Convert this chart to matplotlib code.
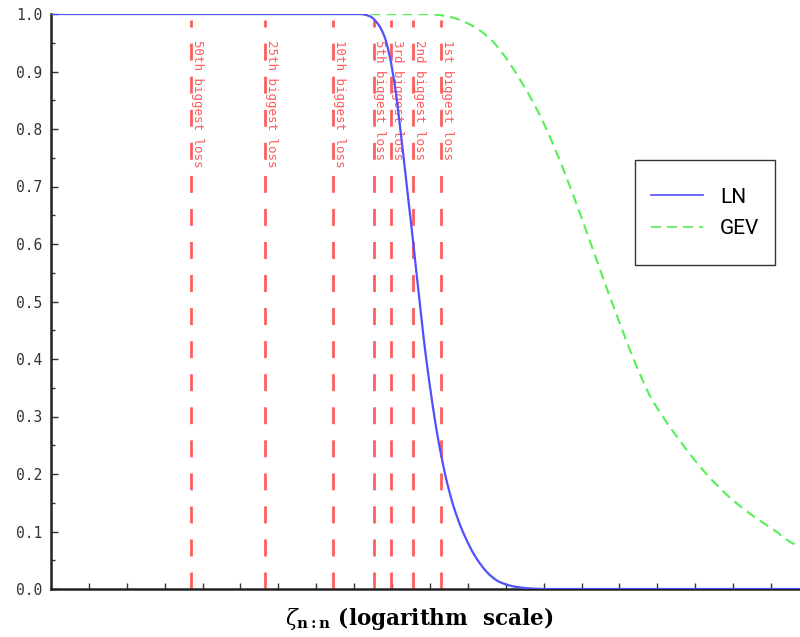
import numpy as np
import matplotlib
matplotlib.use("Agg")
import matplotlib.pyplot as plt
from matplotlib.ticker import FixedLocator, NullLocator, MultipleLocator, NullFormatter
from matplotlib.patches import Rectangle
import matplotlib.transforms as mtransforms

plt.rcParams['lines.scale_dashes'] = False
plt.rcParams['mathtext.fontset'] = 'dejavuserif'

# ---- data (x given as log10 of loss level) ----
ln_logx = [0.0, 1.578, 1.631, 1.683, 1.727, 1.763, 1.789, 1.815, 1.842, 1.859, 1.886,
           1.900, 1.921, 1.944, 1.968, 2.000, 2.035, 2.053, 2.088, 2.132, 2.185,
           2.246, 2.317, 2.369, 2.449, 2.528, 2.607, 3.953]
ln_prob = [1.0, 1.0, 1.0, 0.996, 0.982, 0.958, 0.924, 0.875, 0.805, 0.756, 0.680,
           0.637, 0.573, 0.505, 0.433, 0.352, 0.276, 0.243, 0.188, 0.136, 0.091,
           0.053, 0.024, 0.012, 0.004, 0.001, 0.0, 0.0]

gev_logx = [0.0, 1.963, 2.026, 2.106, 2.227, 2.317, 2.396, 2.475, 2.544, 2.596, 2.686,
            2.739, 2.792, 2.844, 2.897, 2.950, 3.003, 3.055, 3.108, 3.161, 3.230,
            3.303, 3.388, 3.478, 3.583, 3.689, 3.810, 3.953]
gev_prob = [1.0, 1.0, 0.999, 0.995, 0.979, 0.957, 0.926, 0.886, 0.847, 0.813, 0.745,
            0.700, 0.653, 0.605, 0.556, 0.508, 0.461, 0.416, 0.374, 0.336, 0.299,
            0.265, 0.228, 0.193, 0.159, 0.131, 0.104, 0.076]

loss_labels = ["50th biggest loss", "25th biggest loss", "10th biggest loss",
               "5th biggest loss", "3rd biggest loss", "2nd biggest loss",
               "1st biggest loss"]
loss_logx = [0.738, 1.129, 1.487, 1.703, 1.796, 1.912, 2.058]

series_names = ["LN", "GEV"]

# ---- figure ----
W, H = 800, 637
fig = plt.figure(figsize=(W / 100, H / 100), dpi=100)
ax = fig.add_axes([51 / W, (H - 589) / H, (W - 51) / W, 575 / H])

blue = '#5050ff'
green = '#55f055'
red = '#ff5a5a'


def pchip(lx, p, n=600):
    """Monotone cubic curve through the read points (in log10-x space)."""
    lx = np.asarray(lx, float); p = np.asarray(p, float)
    grid = np.linspace(lx[0], lx[-1], n)
    h = np.diff(lx); d = np.diff(p) / h
    m = np.zeros_like(p)
    for i in range(1, len(p) - 1):
        if d[i - 1] * d[i] <= 0:
            m[i] = 0
        else:
            w1 = 2 * h[i] + h[i - 1]; w2 = h[i] + 2 * h[i - 1]
            m[i] = (w1 + w2) / (w1 / d[i - 1] + w2 / d[i])
    out = np.empty_like(grid)
    idx = np.clip(np.searchsorted(lx, grid) - 1, 0, len(h) - 1)
    for j, g in enumerate(grid):
        i = idx[j]
        t = (g - lx[i]) / h[i]
        h00 = 2 * t**3 - 3 * t**2 + 1; h10 = t**3 - 2 * t**2 + t
        h01 = -2 * t**3 + 3 * t**2; h11 = t**3 - t**2
        out[j] = h00 * p[i] + h10 * h[i] * m[i] + h01 * p[i + 1] + h11 * h[i] * m[i + 1]
    return 10 ** grid, out


sx, sy = pchip(ln_logx, ln_prob)
gx, gy = pchip(gev_logx, gev_prob)

ax.plot(gx, gy, color=green, lw=1.5, dashes=(7.2, 4.3), zorder=3, label=series_names[1])
ax.plot(sx, sy, color=blue, lw=1.6, zorder=4, label=series_names[0])

offset = mtransforms.ScaledTranslation(2 / 72, 0, fig.dpi_scale_trans)
for lx, lab in zip(loss_logx, loss_labels):
    xv = 10 ** lx
    ax.plot([xv, xv], [0, 0.99], color=red, lw=1.95, dashes=(12.2, 11.6), zorder=2,
            solid_capstyle='butt', dash_capstyle='butt')
    ax.text(xv, 0.955, lab, rotation=-90, rotation_mode='anchor', ha='left',
            va='baseline', color=red, fontsize=9, family='DejaVu Sans Mono',
            transform=ax.transData + offset, zorder=2)

ax.set_xscale('log')
ax.set_xlim(10 ** 0, 10 ** 3.953)
ax.set_ylim(0, 1.0)
ax.xaxis.set_major_locator(FixedLocator([10 ** (0.2 * k) for k in range(1, 20)]))
ax.xaxis.set_minor_locator(NullLocator())
ax.xaxis.set_major_formatter(NullFormatter())
ax.yaxis.set_minor_locator(MultipleLocator(0.05))
yt = np.round(np.arange(0, 1.01, 0.1), 1)
ax.set_yticks(yt)
ax.set_yticklabels([f"{v:.1f}" for v in yt], family='DejaVu Sans Mono',
                   fontsize=10.5, color='#333333')
ax.tick_params(axis='x', which='major', direction='in', length=4.5, width=1, color='#333333')
ax.tick_params(axis='y', which='major', direction='in', length=5, width=1, color='#333333', pad=6)
ax.tick_params(axis='y', which='minor', direction='in', length=3, width=1, color='#333333')

for s in ['top', 'right']:
    ax.spines[s].set_visible(False)
for s in ['left', 'bottom']:
    ax.spines[s].set_linewidth(1.8)
    ax.spines[s].set_color('#222222')

ax.set_xlabel(r'$\zeta_{\mathbf{n:n}}$ (logarithm  scale)', family='DejaVu Serif',
              fontweight='bold', fontsize=15.5)
ax.xaxis.set_label_coords((419 - 51) / (W - 51), -(625 - 589) / 575)
ax.xaxis.label.set_va('baseline')

# legend
handles, labels = ax.get_legend_handles_labels()
order = [labels.index(n) for n in series_names]
leg = fig.legend([handles[i] for i in order], [labels[i] for i in order],
                 loc='center', bbox_to_anchor=(705 / W, (H - 213) / H),
                 frameon=False, prop={'family': 'Roboto', 'size': 15},
                 handlelength=2.5, handletextpad=0.8, labelspacing=0.6)
for line in leg.get_lines():
    line.set_linewidth(1.2)
fig.add_artist(Rectangle((635 / W, (H - 265) / H), 140 / W, 105 / H,
                         transform=fig.transFigure, fill=False, edgecolor='#333333', lw=1))

fig.savefig('out.png', dpi=100)
